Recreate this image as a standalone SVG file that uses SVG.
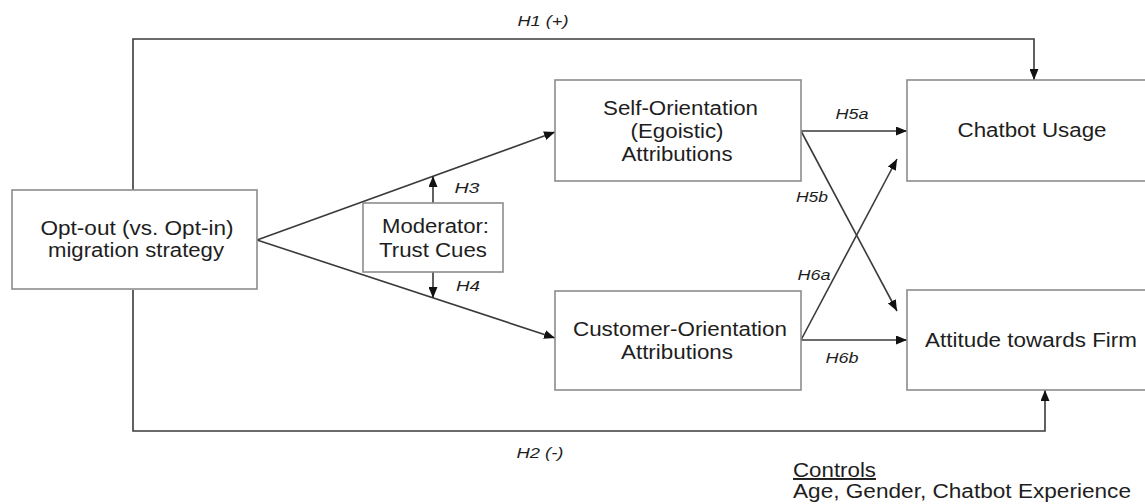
<svg xmlns="http://www.w3.org/2000/svg" width="1145" height="504" viewBox="0 0 1145 504">
<style>
.box{fill:#fff;stroke:#8c8c8c;stroke-width:1.6}
.t{font-family:"Liberation Sans",Arial,sans-serif;font-size:19.5px;fill:#1e1e1e;text-anchor:middle}
.lb{font-family:"Liberation Sans",Arial,sans-serif;font-size:14.5px;font-style:italic;fill:#1e1e1e;text-anchor:middle}
.ln{fill:none;stroke:#3a3a3a;stroke-width:1.6}
.c{font-family:"Liberation Sans",Arial,sans-serif;font-size:19.5px;fill:#1e1e1e}
</style>
<defs>
<marker id="ah" markerUnits="userSpaceOnUse" markerWidth="11" markerHeight="9" refX="11" refY="4.5" orient="auto">
<path d="M0,0 L11,4.5 L0,9 z" fill="#111"/>
</marker>
</defs>
<rect width="1145" height="504" fill="#fff"/>
<g id="connectors">
<polyline class="ln" points="133,190 133,39 1034,39 1034,80" marker-end="url(#ah)"/>
<polyline class="ln" points="133,290 133,431 1045,431 1045,390" marker-end="url(#ah)"/>
<line class="ln" x1="257" y1="240" x2="555" y2="132" marker-end="url(#ah)"/>
<line class="ln" x1="257" y1="240" x2="555" y2="338" marker-end="url(#ah)"/>
<line class="ln" x1="433" y1="203" x2="433" y2="176" marker-end="url(#ah)"/>
<line class="ln" x1="433" y1="272" x2="433" y2="298" marker-end="url(#ah)"/>
<line class="ln" x1="801" y1="131" x2="907" y2="131" marker-end="url(#ah)"/>
<line class="ln" x1="801" y1="340" x2="907" y2="340" marker-end="url(#ah)"/>
<line class="ln" x1="801" y1="131" x2="897" y2="311" marker-end="url(#ah)"/>
<line class="ln" x1="801" y1="340" x2="897" y2="159" marker-end="url(#ah)"/>
<text class="lb" x="543" y="26" textLength="51" lengthAdjust="spacingAndGlyphs">H1 (+)</text>
<text class="lb" x="540" y="458" textLength="47" lengthAdjust="spacingAndGlyphs">H2 (-)</text>
<text class="lb" x="467" y="193" textLength="25" lengthAdjust="spacingAndGlyphs">H3</text>
<text class="lb" x="468" y="291" textLength="24" lengthAdjust="spacingAndGlyphs">H4</text>
<text class="lb" x="852" y="119" textLength="33" lengthAdjust="spacingAndGlyphs">H5a</text>
<text class="lb" x="812" y="202" textLength="32" lengthAdjust="spacingAndGlyphs">H5b</text>
<text class="lb" x="814" y="280" textLength="33" lengthAdjust="spacingAndGlyphs">H6a</text>
<text class="lb" x="842" y="363" textLength="33" lengthAdjust="spacingAndGlyphs">H6b</text>
</g>
<g id="optout">
<rect class="box" x="12" y="190" width="245" height="99"/>
<text class="t" x="137" y="235" textLength="193" lengthAdjust="spacingAndGlyphs">Opt-out (vs. Opt-in)</text>
<text class="t" x="136" y="257" textLength="176" lengthAdjust="spacingAndGlyphs">migration strategy</text>
</g>
<g id="moderator">
<rect class="box" x="363" y="203" width="140" height="69"/>
<text class="t" x="435.5" y="233" textLength="107" lengthAdjust="spacingAndGlyphs">Moderator:</text>
<text class="t" x="433" y="257" textLength="108" lengthAdjust="spacingAndGlyphs">Trust Cues</text>
</g>
<g id="self">
<rect class="box" x="555" y="80" width="246" height="101"/>
<text class="t" x="680.5" y="115" textLength="155" lengthAdjust="spacingAndGlyphs">Self-Orientation</text>
<text class="t" x="677" y="138" textLength="93" lengthAdjust="spacingAndGlyphs">(Egoistic)</text>
<text class="t" x="677" y="161" textLength="111" lengthAdjust="spacingAndGlyphs">Attributions</text>
</g>
<g id="customer">
<rect class="box" x="555" y="291" width="246" height="99"/>
<text class="t" x="680" y="336" textLength="214" lengthAdjust="spacingAndGlyphs">Customer-Orientation</text>
<text class="t" x="677" y="359" textLength="112" lengthAdjust="spacingAndGlyphs">Attributions</text>
</g>
<g id="chatbot">
<rect class="box" x="907" y="80" width="250" height="101"/>
<text class="t" x="1032" y="137" textLength="149" lengthAdjust="spacingAndGlyphs">Chatbot Usage</text>
</g>
<g id="attitude">
<rect class="box" x="907" y="290" width="250" height="100"/>
<text class="t" x="1031" y="347" textLength="212" lengthAdjust="spacingAndGlyphs">Attitude towards Firm</text>
</g>
<g id="controls">
<text class="c" x="793" y="477" textLength="83" lengthAdjust="spacingAndGlyphs" text-decoration="underline">Controls</text>
<text class="c" x="793" y="498" textLength="338" lengthAdjust="spacingAndGlyphs">Age, Gender, Chatbot Experience</text>
</g>
</svg>
